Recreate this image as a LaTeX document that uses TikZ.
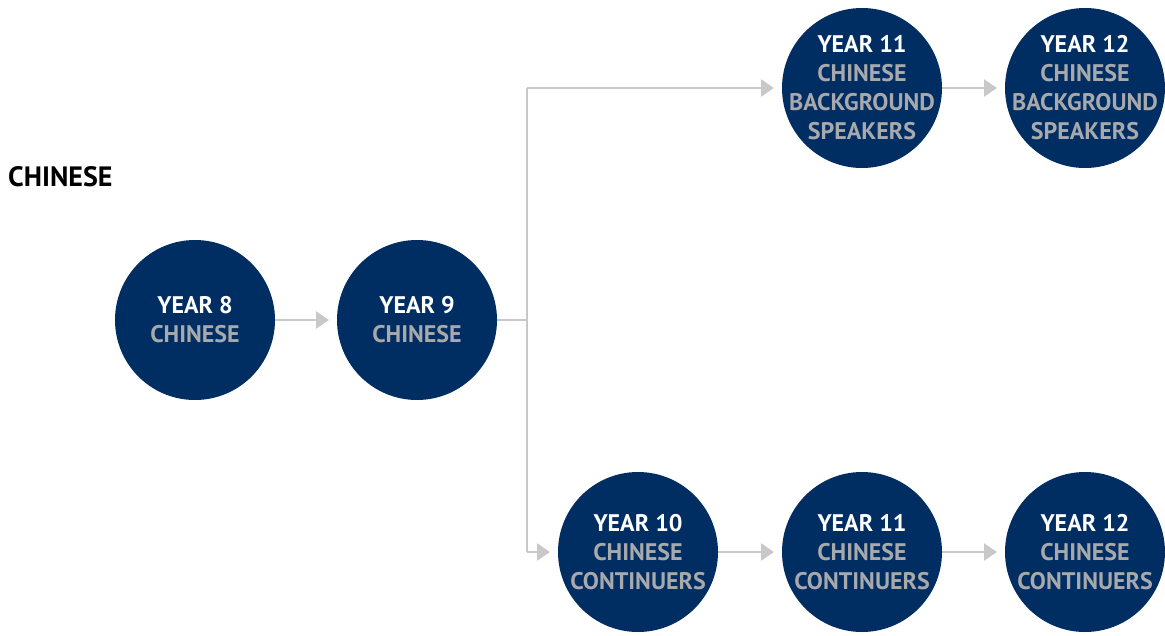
\documentclass[tikz,border=0pt]{standalone}
\usepackage{fontspec}
\setmainfont{PT Sans}
\usetikzlibrary{arrows.meta}
\definecolor{navy}{HTML}{002D62}
\definecolor{greytext}{HTML}{A7A9AC}
\definecolor{linegrey}{HTML}{C8C8C8}
\begin{document}
\begin{tikzpicture}[x=1pt,y=-1pt,
  yeartext/.style={align=center,inner sep=0pt,font=\fontsize{24}{29}\selectfont\bfseries},
  yearnode/.style={circle,fill=navy,minimum size=160pt,inner sep=0pt,outer sep=0pt,
    label={[yeartext]center:#1}},
  conn/.style={draw=linegrey,line width=2.6pt,-{Triangle[length=13pt,width=17pt]},shorten >=8pt},
  plain/.style={draw=linegrey,line width=2.6pt}]
\useasboundingbox (0,0) rectangle (1165,635);
\newcommand{\yr}[1]{\textcolor{white}{#1}}
\newcommand{\sub}[1]{\textcolor{greytext}{#1}}
\node[font=\fontsize{28}{32}\selectfont\bfseries,anchor=base west,inner sep=0pt] (title) at (8,186) {CHINESE};
\node[yearnode={\yr{YEAR 8}\\\sub{CHINESE}}] (y8) at (195,320) {};
\node[yearnode={\yr{YEAR 9}\\\sub{CHINESE}}] (y9) at (417,320) {};
\node[yearnode={\yr{YEAR 11}\\\sub{CHINESE}\\\sub{BACKGROUND}\\\sub{SPEAKERS}}] (y11b) at (862,88) {};
\node[yearnode={\yr{YEAR 12}\\\sub{CHINESE}\\\sub{BACKGROUND}\\\sub{SPEAKERS}}] (y12b) at (1085,88) {};
\node[yearnode={\yr{YEAR 10}\\\sub{CHINESE}\\\sub{CONTINUERS}}] (y10) at (638,552) {};
\node[yearnode={\yr{YEAR 11}\\\sub{CHINESE}\\\sub{CONTINUERS}}] (y11c) at (862,552) {};
\node[yearnode={\yr{YEAR 12}\\\sub{CHINESE}\\\sub{CONTINUERS}}] (y12c) at (1085,552) {};
\coordinate (split) at (527,320);
\coordinate (top) at (527,88);
\coordinate (bot) at (527,552);
\draw[conn] (y8) -- (y9);
\draw[plain] (y9.east) -- (split);
\draw[plain] (top) -- (bot);
\draw[conn] (top) -- (y11b);
\draw[conn] (bot) -- (y10);
\draw[conn] (y11b) -- (y12b);
\draw[conn] (y10) -- (y11c);
\draw[conn] (y11c) -- (y12c);
\end{tikzpicture}
\end{document}
